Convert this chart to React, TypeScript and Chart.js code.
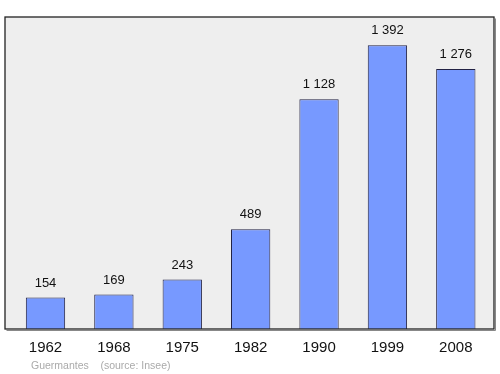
import React, { useEffect, useRef } from "react";
import { Chart, registerables } from "chart.js";

Chart.register(...registerables);

const years = ["1962", "1968", "1975", "1982", "1990", "1999", "2008"];
const population = [154, 169, 243, 489, 1128, 1392, 1276];
const commune = "Guermantes";
const source = "(source: Insee)";

const fmt = (v: number) => String(v).replace(/\B(?=(\d{3})+(?!\d))/g, " ");

const boxPlugin = {
  id: "box",
  beforeDraw(chart: any) {
    const { ctx, chartArea } = chart;
    const l = chartArea.left - 6.3;
    const r = chartArea.right + 4;
    const t = chartArea.top;
    const b = chartArea.bottom;
    ctx.save();
    ctx.fillStyle = "#eeeeee";
    ctx.fillRect(l, t, r - l, b - t);
    ctx.restore();
  },
  afterDatasetsDraw(chart: any) {
    const { ctx, chartArea } = chart;
    const l = chartArea.left - 6.3;
    const r = chartArea.right + 4;
    const t = chartArea.top;
    const b = chartArea.bottom;
    ctx.save();
    ctx.strokeStyle = "#888888";
    ctx.lineWidth = 1;
    ctx.beginPath();
    ctx.moveTo(r + 1.5, t + 1.5);
    ctx.lineTo(r + 1.5, b + 1.5);
    ctx.lineTo(l + 1.5, b + 1.5);
    ctx.stroke();
    ctx.strokeStyle = "#222222";
    ctx.lineWidth = 1.3;
    ctx.strokeRect(l, t, r - l, b - t);
    // value labels
    const meta = chart.getDatasetMeta(0);
    ctx.fillStyle = "#111111";
    ctx.font = "13px 'Liberation Sans', Arial, sans-serif";
    ctx.textAlign = "center";
    ctx.textBaseline = "middle";
    meta.data.forEach((bar: any, i: number) => {
      ctx.fillText(fmt(population[i]), bar.x, bar.y - 14.5);
    });
    ctx.restore();
  },
};

export default function App() {
  const ref = useRef<HTMLCanvasElement>(null);
  useEffect(() => {
    const chart = new Chart(ref.current!, {
      type: "bar",
      data: {
        labels: years,
        datasets: [
          {
            data: population,
            backgroundColor: "#7799ff",
            borderColor: "#222244",
            borderWidth: 1,
            barPercentage: 0.575,
            categoryPercentage: 1,
          },
        ],
      },
      options: {
        animation: false,
        responsive: false,
        devicePixelRatio: 1,
        layout: { padding: { left: 11.3, right: 10, top: 17, bottom: 7 } },
        plugins: { legend: { display: false }, tooltip: { enabled: false } },
        scales: {
          x: {
            grid: { display: false, drawTicks: false },
            border: { display: false },
            ticks: {
              padding: 10,
              color: "#111111",
              font: { size: 15, family: "'Liberation Sans', Arial, sans-serif" },
            },
          },
          y: { display: false, min: 0, max: 1392 * 1.1 },
        },
      },
      plugins: [boxPlugin],
    });
    return () => chart.destroy();
  }, []);
  return (
    <div style={{ position: "absolute", left: 0, top: 0, width: 500, height: 374, background: "#fff" }}>
      <canvas ref={ref} width={500} height={374} style={{ display: "block" }} />
      <div
        style={{
          position: "absolute",
          left: 31,
          top: 358.5,
          fontFamily: "'Liberation Sans', Arial, sans-serif",
          fontSize: 10.5,
          color: "#aaaaaa",
          whiteSpace: "pre",
          lineHeight: "13px",
        }}
      >
        {commune + "    " + source}
      </div>
    </div>
  );
}
